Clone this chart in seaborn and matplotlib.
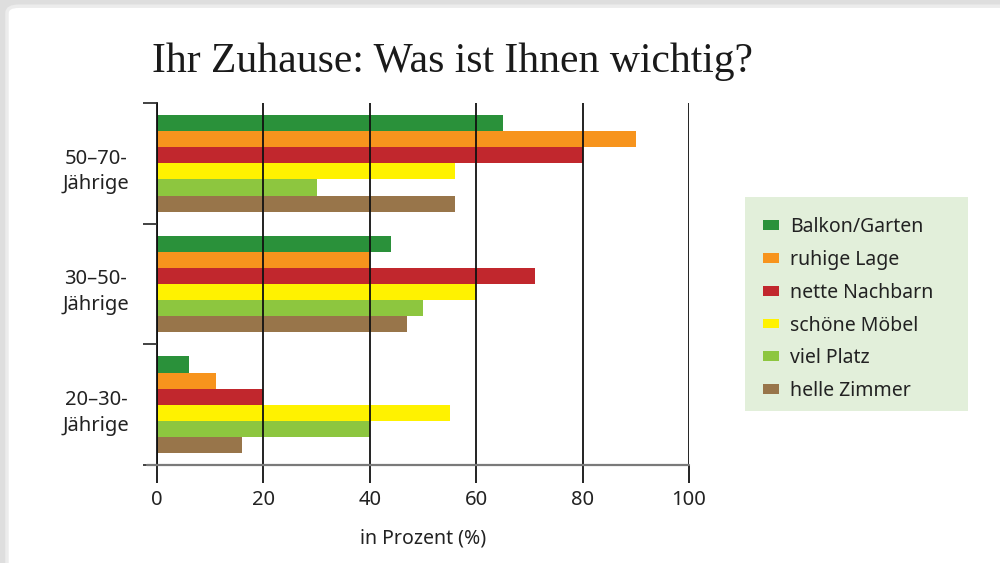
import matplotlib
matplotlib.use("Agg")
import matplotlib.pyplot as plt
import matplotlib.transforms as mtransforms
from matplotlib.patches import FancyBboxPatch, Patch, Rectangle
from matplotlib.lines import Line2D
import seaborn as sns
import pandas as pd

# Survey data: share of respondents (%) per age group and criterion
age_groups = ["50–70-\nJährige", "30–50-\nJährige", "20–30-\nJährige"]
criteria = ["Balkon/Garten", "ruhige Lage", "nette Nachbarn",
            "schöne Möbel", "viel Platz", "helle Zimmer"]
values_50_70 = [65, 90, 80, 56, 30, 56]
values_30_50 = [44, 40, 71, 60, 50, 47]
values_20_30 = [6, 11, 20, 55, 40, 16]
x_ticks = [0, 20, 40, 60, 80, 100]

colors = ["#2a913a", "#f7941d", "#c1272d", "#fff200", "#8dc63f", "#98754a"]

rows = []
for group, vals in zip(age_groups, [values_50_70, values_30_50, values_20_30]):
    for crit, v in zip(criteria, vals):
        rows.append({"Gruppe": group, "Kriterium": crit, "Prozent": v})
df = pd.DataFrame(rows)

sns.set_theme(style="white")
plt.rcParams["font.family"] = ["Noto Sans", "DejaVu Sans"]
text_color = "#222222"

fig = plt.figure(figsize=(10, 5.63), dpi=100)
fig.patch.set_facecolor("#dedede")

# white card with rounded corner
card = FancyBboxPatch((0.007, -0.05), 1.1, 1.039,
                      boxstyle="round,pad=0,rounding_size=0.012",
                      transform=fig.transFigure, facecolor="white",
                      edgecolor="#ececec", linewidth=2.5, zorder=-10)
fig.patches.append(card)

ax = fig.add_axes([0.157, 0.174, 0.532, 0.643])
ax.set_facecolor("none")

sns.barplot(data=df, y="Gruppe", x="Prozent", hue="Kriterium",
            order=age_groups, hue_order=criteria, palette=colors,
            orient="h", saturation=1, width=0.8, linewidth=0,
            legend=False, ax=ax)

ax.set_xlim(0, 100)
ax.set_ylim(2.5, -0.5)
ax.set_xticks(x_ticks)
ax.set_xticklabels([str(t) for t in x_ticks], fontsize=14.5, color=text_color)
ax.xaxis.grid(True, color="#111111", linewidth=1.3)
ax.yaxis.grid(False)
ax.set_axisbelow(False)
ax.tick_params(axis="x", direction="out", length=13, width=1.3,
               color="#111111", pad=5, bottom=True)

# group separators as ticks, group names as minor labels
ax.set_yticks([-0.5, 0.5, 1.5, 2.5])
ax.set_yticklabels([])
ax.set_yticks([0, 1, 2], minor=True)
ax.set_yticklabels(age_groups, minor=True, fontsize=14.5, color=text_color,
                   multialignment="center", va="center", linespacing=1.38)
ax.tick_params(axis="y", which="major", direction="out", length=10,
               width=1.3, color="#333333", left=True)
ax.tick_params(axis="y", which="minor", length=0, pad=20)
shift = mtransforms.ScaledTranslation(0, -8 / 100, fig.dpi_scale_trans)
for lbl in ax.get_yticklabels(minor=True):
    lbl.set_transform(lbl.get_transform() + shift)

for side in ["top", "right", "bottom"]:
    ax.spines[side].set_visible(False)
ax.spines["left"].set_color("#111111")
ax.spines["left"].set_linewidth(1.3)

# grey baseline reaching left past the axis
ax.add_line(Line2D([-10 / 532, 1.0], [0, 0], transform=ax.transAxes,
                   color="#7a7a7a", linewidth=1.6, clip_on=False, zorder=5))

ax.set_xlabel("in Prozent (%)", fontsize=14, color=text_color, labelpad=13)
ax.set_ylabel("")

fig.text(0.452, 1 - 72 / 563, "Ihr Zuhause: Was ist Ihnen wichtig?",
         family="Liberation Serif", fontsize=30, color="#1a1a1a",
         ha="center", va="baseline")

# legend panel
fig.patches.append(Rectangle((0.745, 1 - 411 / 563), 0.223, 214 / 563,
                             transform=fig.transFigure, facecolor="#e2efda",
                             edgecolor="none", zorder=-5))
handles = [Patch(facecolor=c, edgecolor="none") for c in colors]
leg = fig.legend(handles, criteria, loc="upper left",
                 bbox_to_anchor=(0.763, 1 - 217 / 563),
                 fontsize=14, frameon=False,
                 handlelength=0.82, handleheight=0.4, handletextpad=0.55,
                 labelspacing=0.66, borderpad=0, borderaxespad=0)
for t in leg.get_texts():
    t.set_color(text_color)

fig.savefig("out.png", dpi=100, facecolor=fig.get_facecolor())
